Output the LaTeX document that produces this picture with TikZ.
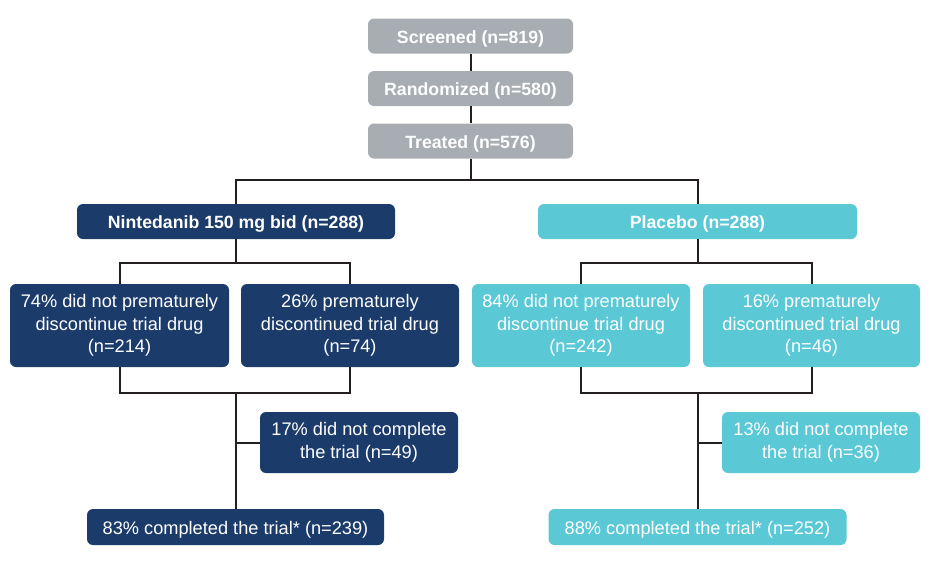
\documentclass[tikz,border=0pt]{standalone}
\usepackage{fontspec}
\setmainfont{Liberation Sans}
\usepackage{xcolor}
\definecolor{navy}{RGB}{27,60,107}
\definecolor{aqua}{RGB}{91,200,214}
\definecolor{stone}{RGB}{167,173,179}
\definecolor{wire}{RGB}{35,31,32}

\begin{document}
\begin{tikzpicture}[x=1pt, y=-1pt,
    box/.style={rounded corners=6pt, text=white, align=center, inner sep=0pt,
        font=\fontsize{18.2}{22.5}\selectfont,
        execute at begin node={\rule{0pt}{18pt}}},
    head/.style={box, font=\fontsize{17.7}{22}\selectfont\bfseries},
    greybox/.style={head, fill=stone, minimum width=205pt, minimum height=35pt},
    navybox/.style={box, fill=navy},
    aquabox/.style={box, fill=aqua},
    link/.style={draw=wire, line width=2pt}]
    \useasboundingbox (0,0) rectangle (935,563);

    % enrolment
    \node[greybox] (screened) at (470.5,36) {Screened (n=819)};
    \node[greybox] (randomized) at (470.5,88.5) {Randomized (n=580)};
    \node[greybox] (treated) at (470.5,141) {Treated (n=576)};
    \coordinate (split) at (470.5,180);

    % arms
    \node[head, fill=navy, minimum width=318pt, minimum height=35pt] (nint) at (236,221.5) {Nintedanib 150 mg bid (n=288)};
    \node[head, fill=aqua, minimum width=319pt, minimum height=35pt] (plac) at (697.5,221.5) {Placebo (n=288)};

    % nintedanib arm
    \coordinate (nsplit) at (236,263);
    \coordinate (njoin) at (236,393);
    \node[navybox, minimum width=219pt, minimum height=83pt] (stayN) at (119.5,325.5) {74\% did not prematurely\\discontinue trial drug\\(n=214)};
    \node[navybox, minimum width=218pt, minimum height=83pt] (stopN) at (350,325.5) {26\% prematurely\\discontinued trial drug\\(n=74)};
    \node[navybox, minimum width=198pt, minimum height=61pt] (lostN) at (359,442.5) {17\% did not complete\\the trial (n=49)};
    \node[navybox, minimum width=297pt, minimum height=36pt] (doneN) at (235.5,527) {83\% completed the trial* (n=239)};

    % placebo arm
    \coordinate (psplit) at (697.5,263);
    \coordinate (pjoin) at (697.5,393);
    \node[aquabox, minimum width=218pt, minimum height=83pt] (stayP) at (581,325.5) {84\% did not prematurely\\discontinue trial drug\\(n=242)};
    \node[aquabox, minimum width=217pt, minimum height=83pt] (stopP) at (811.5,325.5) {16\% prematurely\\discontinued trial drug\\(n=46)};
    \node[aquabox, minimum width=198pt, minimum height=61pt] (lostP) at (821,442.5) {13\% did not complete\\the trial (n=36)};
    \node[aquabox, minimum width=298pt, minimum height=36pt] (doneP) at (697.5,527) {88\% completed the trial* (n=252)};

    % connectors
    \draw[link] (screened) -- (randomized);
    \draw[link] (randomized) -- (treated);
    \draw[link] (treated) -- (split);
    \draw[link] (nint.north) |- (split) -| (plac.north);

    \draw[link] (nint) -- (nsplit);
    \draw[link] (stayN.north) |- (nsplit) -| (stopN.north);
    \draw[link] (stayN.south) |- (njoin) -| (stopN.south);
    \draw[link] (njoin) -- (njoin |- doneN.north);
    \draw[link] (lostN.west) -- (lostN.west -| njoin);

    \draw[link] (plac) -- (psplit);
    \draw[link] (stayP.north) |- (psplit) -| (stopP.north);
    \draw[link] (stayP.south) |- (pjoin) -| (stopP.south);
    \draw[link] (pjoin) -- (pjoin |- doneP.north);
    \draw[link] (lostP.west) -- (lostP.west -| pjoin);
\end{tikzpicture}
\end{document}
